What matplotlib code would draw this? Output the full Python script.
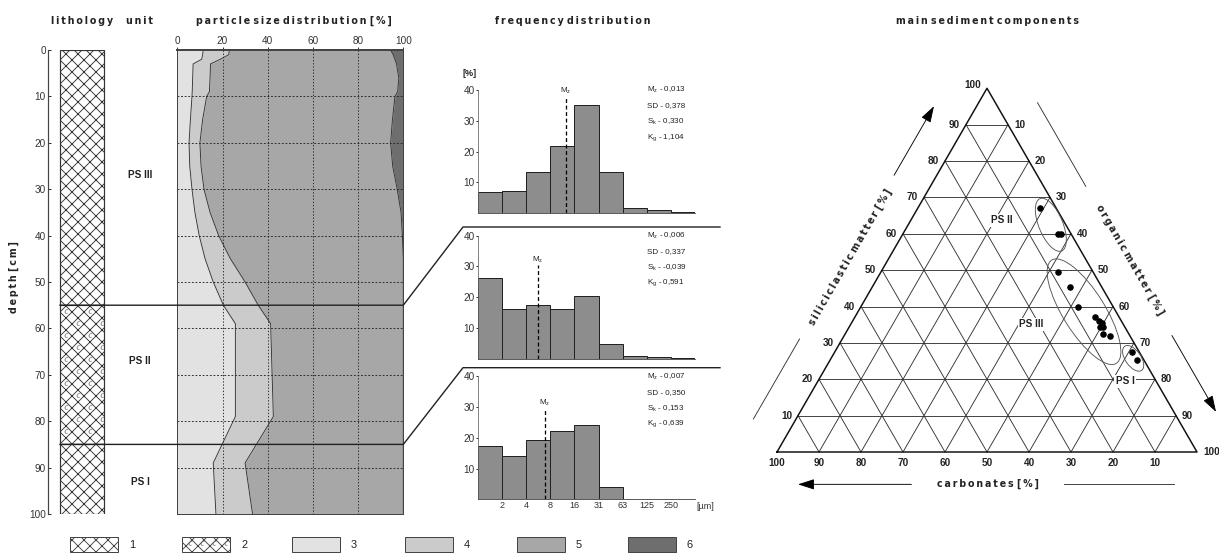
import numpy as np
import matplotlib.pyplot as plt
from matplotlib.patches import Rectangle, Ellipse
from matplotlib.lines import Line2D

W, H, DPI = 1219, 554, 72

plt.rcParams['font.family'] = ['Liberation Sans', 'DejaVu Sans']
plt.rcParams['hatch.linewidth'] = 0.9
plt.rcParams['mathtext.fontset'] = 'custom'
plt.rcParams['mathtext.rm'] = 'Liberation Sans'

# --- core units / lithology ---
unit_names = ['PS III', 'PS II', 'PS I']
unit_top = [0, 55, 85]
unit_base = [55, 85, 100]
unit_lith = [1, 2, 1]

# --- particle size distribution, cumulative class boundaries [%] ---
psd_depth = [0, 1, 2, 3, 6, 9, 10, 15, 20, 25, 30, 35, 40, 45, 50, 55, 59, 79, 89, 100]
cum_3 = [11.5, 11.2, 10.8, 7.0, 6.8, 6.6, 6.5, 5.8, 5.2, 5.5, 6.5, 7.8, 9.7, 12.3, 15.9, 20.4, 25.7, 25.7, 15.9, 17.1]
cum_34 = [23.0, 22.8, 19.0, 14.7, 14.5, 14.2, 13.0, 11.2, 10.0, 10.5, 11.8, 14.5, 18.3, 23.5, 30.0, 35.8, 41.3, 42.5, 30.0, 33.3]
cum_345 = [94.4, 95.5, 96.3, 97.0, 98.0, 97.5, 96.3, 95.2, 94.4, 95.3, 97.3, 99.0, 99.6, 100, 100, 100, 100, 100, 100, 100]

# --- frequency distributions [%] per size class ---
size_edges = ['2', '4', '8', '16', '31', '63', '125', '250']
freq_ps3 = [6.7, 7.0, 13.3, 21.9, 35.0, 13.3, 1.7, 1.1, 0.4]
freq_ps2 = [26.1, 16.2, 17.4, 16.2, 20.3, 4.6, 0.8, 0.65, 0.3]
freq_ps1 = [17.4, 14.0, 19.3, 22.3, 24.3, 4.1, 0, 0, 0]
mz_pos = [3.65, 2.49, 2.78]       # mean grain size, in class units
stat_names = [r'M$_\mathrm{z}$', 'SD', r'S$_\mathrm{k}$', r'K$_\mathrm{g}$']
stats_ps3 = ['0,013', '0,378', '0,330', '1,104']
stats_ps2 = ['0,006', '0,337', '-0,039', '0,591']
stats_ps1 = ['0,007', '0,350', '0,153', '0,639']

# --- main sediment components [%] ---
siliciclastic = [67.0, 60.0, 59.8, 49.5, 45.3, 39.9, 37.0, 36.1, 35.5, 34.5, 34.5, 32.5, 31.8, 27.4, 25.3]
organic = [29.0, 37.0, 37.6, 42.2, 47.2, 51.8, 57.2, 58.7, 59.6, 59.7, 60.3, 61.4, 63.3, 70.8, 73.1]
carbonates = [4.0, 3.0, 2.6, 8.3, 7.5, 8.3, 5.8, 5.2, 4.9, 5.8, 5.2, 6.1, 4.9, 1.8, 1.6]

legend_labels = ['1', '2', '3', '4', '5', '6']

C3, C4, C5, C6 = '#e2e2e2', '#cbcbcb', '#a7a7a7', '#6e6e6e'
HIST = '#8d8d8d'
TXT = '#222222'

fig = plt.figure(figsize=(W / DPI, H / DPI), dpi=DPI)


def px_axes(x0, y0, x1, y1):
    return fig.add_axes([x0 / W, 1 - y1 / H, (x1 - x0) / W, (y1 - y0) / H])


def fig_xy(x, y):
    return x / W, 1 - y / H


def spaced(t):
    # loose letter spacing like the original headings
    return '\u2009'.join(t).replace('\u2009 \u2009', ' ')


HEAD = dict(fontsize=9.5, fontweight='bold', family=['DejaVu Sans'], color=TXT)

# column titles
for x, t in [(82, 'lithology'), (140, 'unit'), (294, 'particle size distribution [%]'),
             (573, 'frequency distribution'), (988, 'main sediment components')]:
    fig.text(*fig_xy(x, 21), spaced(t), ha='center', va='center', **HEAD)

fig.text(*fig_xy(14, 277), spaced('depth [cm]'), rotation=90, ha='center', va='center', **HEAD)

# === lithology + units ===
ax_l = px_axes(48, 50, 177, 514)
ax_l.set_xlim(48, 177)
ax_l.set_ylim(100, 0)
unit_label_depth = [27, 67, 93]
for top, base, lt, name, yl in zip(unit_top, unit_base, unit_lith, unit_names, unit_label_depth):
    ax_l.bar(82, base - top, bottom=top, width=44, color='white', edgecolor='#333333',
             hatch='xx', lw=1.2)
    if lt == 2:
        ys = np.arange(top + 1.3, base - 0.5, 12 / 4.64)
        for j, y in enumerate(ys):
            xs = np.arange(66 + (j % 2) * 12, 104, 24)
            ax_l.scatter(xs, [y] * len(xs), marker='$c$', s=18, color='#555555', lw=0, zorder=3)
    ax_l.text(140, yl, name, ha='center', va='center', fontsize=10, fontweight='bold', color=TXT)
for s in ['top', 'right', 'bottom']:
    ax_l.spines[s].set_visible(False)
ax_l.spines['left'].set_color('#444444')
ax_l.spines['left'].set_linewidth(1.2)
ax_l.set_xticks([])
ax_l.set_yticks(np.arange(0, 101, 10))
ax_l.tick_params(axis='y', direction='in', length=3, pad=2, labelsize=10, labelcolor='#333333')

# === particle size distribution ===
ax_p = px_axes(177.3, 50, 403.3, 514)
d = np.array(psd_depth)
ax_p.fill_betweenx(d, 0, cum_3, color=C3, lw=0)
ax_p.fill_betweenx(d, cum_3, cum_34, color=C4, lw=0)
ax_p.fill_betweenx(d, cum_34, cum_345, color=C5, lw=0)
ax_p.fill_betweenx(d, cum_345, 100, color=C6, lw=0)
for c in (cum_3, cum_34, cum_345):
    ax_p.plot(c, d, color='#333333', lw=0.9)
ax_p.vlines([20, 40, 60, 80], 0, 100, colors='#222222', linestyles=(0, (1.5, 2)), lw=0.9)
ax_p.hlines(np.arange(10, 100, 10), 0, 100, colors='#222222', linestyles=(0, (2, 2)), lw=0.9)
ax_p.set_xlim(0, 100)
ax_p.set_ylim(100, 0)
ax_p.xaxis.tick_top()
ax_p.set_xticks(np.arange(0, 101, 20))
ax_p.set_yticks([])
ax_p.tick_params(axis='x', length=3, pad=1, labelsize=10, labelcolor='#333333')
for s in ax_p.spines.values():
    s.set_color('#444444')
    s.set_linewidth(1)
ax_p.spines['top'].set_linewidth(2)

# === frequency distributions ===
hist_tops = [81.4, 227, 367.7]
hist_h = 131.6
mz_top = [37.8, 30.4, 29.6]
hist_axes = []
for i, (freq, mz, st) in enumerate(zip([freq_ps3, freq_ps2, freq_ps1], mz_pos,
                                       [stats_ps3, stats_ps2, stats_ps1])):
    top = hist_tops[i]
    ax = px_axes(478, top, 695, top + hist_h)
    hist_axes.append(ax)
    ax.bar(np.arange(len(freq)) + 0.5, freq, width=1, color=HIST, edgecolor='#222222', lw=1)
    ax.set_xlim(0, 9)
    ax.set_ylim(0, 42.8)
    ax.spines['top'].set_visible(False)
    ax.spines['right'].set_visible(False)
    ax.spines['left'].set_bounds(0, 40)
    ax.spines['left'].set_color('#666666')
    ax.spines['bottom'].set_color('#333333')
    ax.set_yticks([10, 20, 30, 40])
    ax.tick_params(axis='y', length=2, pad=1, labelsize=10, labelcolor='#333333')
    ax.vlines(mz, 0, mz_top[i], colors='k', linestyles=(0, (3, 2)), lw=1.3, zorder=4)
    ax.text(mz, mz_top[i] + 0.2, r'M$_\mathrm{z}$', ha='center', va='bottom', fontsize=8, color=TXT)
    for j, (lab, val) in enumerate(zip(stat_names, st)):
        ax.text(7.0, 40 - 5.2 * j, f'{lab} - {val}', fontsize=8, va='center', color=TXT)
    if i == 2:
        ax.set_xticks(np.arange(1, 9))
        ax.set_xticklabels(size_edges)
        ax.tick_params(axis='x', length=0, pad=2, labelsize=9, labelcolor='#333333')
        ax.annotate('[µm]', xy=(9.42, 0), xycoords=('data', 'axes fraction'), xytext=(0, -7),
                    textcoords='offset points', ha='center', va='center', fontsize=9,
                    color='#333333', annotation_clip=False)
    else:
        ax.set_xticks([])
fig.text(*fig_xy(470, 73), '[%]', ha='center', va='center', fontsize=9, fontweight='bold', color=TXT)

# unit boundary connectors
inv = fig.transFigure.inverted()
for depth, axh in [(55, hist_axes[1]), (85, hist_axes[2])]:
    xp, yp = inv.transform(ax_p.transData.transform((100, depth)))
    top = axh.get_position().y1
    fig.add_artist(Line2D([60 / W, xp, 463 / W, 720 / W], [yp, yp, top, top],
                          color='#222222', lw=1.4))

# === ternary diagram ===
h = np.sqrt(3) / 2
ax_t = px_axes(740, 60, 1219, 520)
ax_t.set_xlim(-37 / 420, 442 / 420)
ax_t.set_ylim(-68 / 420, 392 / 420)
ax_t.axis('off')


def tern(s, o):
    return o + s / 2, s * h


def left_pt(s, dd):
    x, y = tern(s, 0)
    return x - h * dd, y + 0.5 * dd


def right_pt(s, dd):
    x, y = tern(s, 1 - s)
    return x + h * dd, y + 0.5 * dd


for k in range(1, 10):
    f = k / 10
    ax_t.plot([f / 2, 1 - f / 2], [f * h, f * h], color='#333333', lw=0.9)
    ax_t.plot([f, f + (1 - f) / 2], [0, (1 - f) * h], color='#333333', lw=0.9)
    ax_t.plot([1 - f, (1 - f) / 2], [0, (1 - f) * h], color='#333333', lw=0.9)
ax_t.plot([0, 1, 0.5, 0], [0, 0, h, 0], color='#111111', lw=1.5)

tk = dict(fontsize=10, fontweight='bold', color=TXT, textcoords='offset points', va='center')
for k in range(1, 11):
    f = k / 10
    ax_t.annotate(str(k * 10), tern(f, 0), xytext=(-6, 3 if k == 10 else 0), ha='right', **tk)
    ax_t.annotate(str(k * 10), tern(1 - f, f), xytext=(6, 0), ha='left', **tk)
    ax_t.annotate(str(k * 10), (1 - f, 0), xytext=(0, -11), ha='center', **tk)

lab = dict(HEAD, ha='center', va='center')
ax_t.text(*left_pt(0.49, 0.081), spaced('siliciclastic matter [%]'), rotation=60, **lab)
ax_t.text(*right_pt(0.476, 0.09), spaced('organic matter [%]'), rotation=-60, **lab)
ax_t.text(0.503, -0.077, spaced('carbonates [%]'), **lab)

arr = dict(arrowstyle='-|>,head_length=1.4,head_width=0.45', color='k', lw=0.9,
           shrinkA=0, shrinkB=0)
ln = dict(color='#333333', lw=0.9)
ax_t.annotate('', xy=left_pt(0.90, 0.088), xytext=left_pt(0.71, 0.088), arrowprops=arr)
ax_t.plot(*zip(left_pt(0.04, 0.088), left_pt(0.26, 0.088)), **ln)
ax_t.plot(*zip(right_pt(0.91, 0.087), right_pt(0.68, 0.087)), **ln)
ax_t.annotate('', xy=right_pt(0.06, 0.087), xytext=right_pt(0.27, 0.087), arrowprops=arr)
ax_t.annotate('', xy=(0.05, -0.077), xytext=(0.32, -0.077), arrowprops=arr)
ax_t.plot([0.683, 0.945], [-0.077, -0.077], **ln)

pts = np.array([tern(s / 100, o / 100) for s, o in zip(siliciclastic, organic)])
ax_t.scatter(pts[:, 0], pts[:, 1], s=30, color='k', zorder=5)

for (cx, cy), w, hh, ang in [((0.652, 0.541), 0.135, 0.057, -67.5),
                             ((0.731, 0.334), 0.29, 0.10, -58),
                             ((0.848, 0.223), 0.07, 0.037, -55)]:
    ax_t.add_patch(Ellipse((cx, cy), w, hh, angle=ang, fill=False, ec='#555555', lw=0.9, zorder=4))

box = dict(boxstyle='square,pad=0.15', fc='white', ec='none')
for (x, y), t in [((0.535, 0.552), 'PS II'), ((0.606, 0.304), 'PS III'), ((0.829, 0.169), 'PS I')]:
    ax_t.text(x, y, t, ha='center', va='center', fontsize=10, fontweight='bold',
              color=TXT, bbox=box, zorder=6)

# === legend ===
ax_g = px_axes(0, 528, W, H)
ax_g.set_xlim(0, W)
ax_g.set_ylim(H, 528)
ax_g.axis('off')
leg_x = [70, 182, 292, 405, 517, 628]
leg_style = [dict(fc='white', hatch='xx'), dict(fc='white', hatch='xx'), dict(fc=C3), dict(fc=C4),
             dict(fc=C5), dict(fc=C6)]
for x, lbl, st in zip(leg_x, legend_labels, leg_style):
    ax_g.add_patch(Rectangle((x, 537), 48, 15, ec='#444444', lw=1, **st))
    ax_g.text(x + 62, 545, lbl, ha='center', va='center', fontsize=11, color=TXT)
xs = np.arange(leg_x[1] + 8, leg_x[1] + 48, 12)
ax_g.scatter(xs, [543] * len(xs), marker='$c$', s=18, color='#555555', lw=0, zorder=3)

fig.savefig('out.png', dpi=DPI)
